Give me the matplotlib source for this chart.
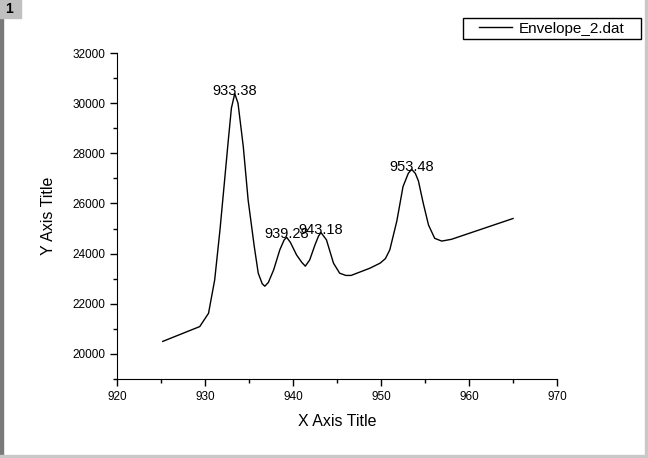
import matplotlib.pyplot as plt
import numpy as np

# Envelope_2.dat
x = np.array([925.2, 929.4, 930.4, 931.1, 931.7, 932.16, 932.65, 933.0, 933.38,
              933.75, 934.35, 934.9, 935.6, 936.05, 936.5, 936.8, 937.2, 937.8,
              938.5, 939.0, 939.28, 939.7, 940.4, 941.0, 941.4, 941.9, 942.5,
              942.9, 943.18, 943.8, 944.6, 945.3, 946.0, 946.6, 948.75, 949.9,
              950.5, 951.0, 951.8, 952.5, 953.1, 953.48, 953.9, 954.25, 954.8,
              955.4, 956.1, 956.9, 958.0, 965.0])
y = np.array([20500, 21090, 21620, 22950, 24940, 26670, 28530, 29800, 30380,
              30000, 28270, 26140, 24280, 23220, 22800, 22700, 22850, 23350,
              24150, 24550, 24650, 24450, 23950, 23650, 23500, 23750, 24350,
              24700, 24840, 24550, 23620, 23220, 23130, 23130, 23420, 23620,
              23800, 24150, 25300, 26670, 27200, 27360, 27200, 26900, 26010,
              25140, 24610, 24500, 24570, 25400])

peak_x = [933.38, 939.28, 943.18, 953.48]
peak_y = [30380, 24650, 24840, 27360]

plt.rcParams['font.family'] = ['Liberation Sans', 'DejaVu Sans']

fig = plt.figure(figsize=(6.48, 4.58), dpi=100)
ax = fig.add_axes([117/648, 1 - 379/458, 440/648, 326/458])

ax.plot(x, y, color='black', lw=1, label='Envelope_2.dat')
for px, py in zip(peak_x, peak_y):
    ax.annotate(f'{px:.2f}', (px, py), xytext=(0, -3), textcoords='offset points',
                ha='center', va='bottom', fontsize=10.5)

ax.set_xlim(920, 970)
ax.set_ylim(19000, 32000)
ax.set_xticks(np.arange(920, 971, 10))
ax.set_xticks(np.arange(925, 970, 10), minor=True)
ax.set_yticks(np.arange(20000, 32001, 2000))
ax.set_yticks(np.arange(19000, 32000, 2000), minor=True)
ax.tick_params(direction='out', labelsize=8.5, length=5, width=1)
ax.tick_params(which='minor', direction='out', length=3, width=1)
ax.spines['top'].set_visible(False)
ax.spines['right'].set_visible(False)
ax.set_xlabel('X Axis Title', fontsize=11.5, labelpad=8)
ax.set_ylabel('Y Axis Title', fontsize=11.5, labelpad=12)

# legend: frame drawn by hand, entry placed inside it
fig.patches.append(plt.Rectangle((463/648, 1 - 39/458), 178/648, 21/458,
                                 transform=fig.transFigure, fill=False,
                                 edgecolor='black', lw=1, zorder=4))
fig.legend(loc='center left', bbox_to_anchor=(479/648, 1 - 28.5/458),
           fontsize=11, frameon=False, handlelength=2.15, handletextpad=0.45,
           borderpad=0, borderaxespad=0)

# page frame and layer tab
fig.patches.append(plt.Rectangle((0, 0), 3/648, 1, transform=fig.transFigure,
                                 color='#7a7a7a', zorder=5))
fig.patches.append(plt.Rectangle((645/648, 0), 3/648, 1, transform=fig.transFigure,
                                 color='#c8c8c8', zorder=5))
fig.patches.append(plt.Rectangle((0, 0), 1, 3/458, transform=fig.transFigure,
                                 color='#c8c8c8', zorder=5))
fig.patches.append(plt.Rectangle((0, 1 - 18/458), 21/648, 18/458, transform=fig.transFigure,
                                 color='#c0c0c0', zorder=5))
fig.text(9/648, 1 - 9/458, '1', fontsize=10, fontweight='bold', ha='center', va='center',
         zorder=6)

fig.savefig('out.png', dpi=100)
